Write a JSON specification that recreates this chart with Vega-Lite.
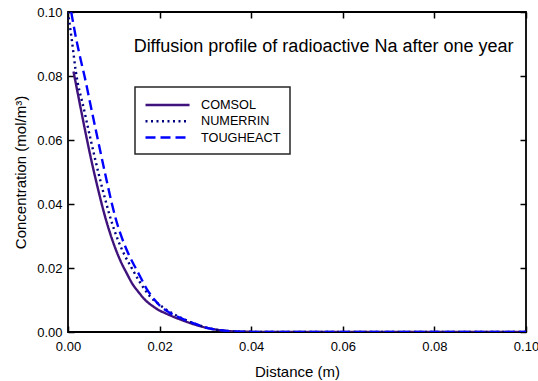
{
  "$schema": "https://vega.github.io/schema/vega-lite/v6.json",
  "width": 458,
  "height": 320,
  "autosize": {"type": "none"},
  "padding": {"left": 68, "top": 12, "right": 12, "bottom": 49},
  "background": "white",
  "config": {
    "font": "Liberation Sans",
    "view": {"stroke": "black", "strokeWidth": 1.8},
    "axis": {
      "domain": false,
      "grid": false,
      "tickColor": "black",
      "tickWidth": 1.5,
      "tickSize": -6,
      "labelFont": "Liberation Sans",
      "labelFontSize": 13,
      "labelColor": "black",
      "labelFlush": false,
      "labelOverlap": false,
      "titleFont": "Liberation Sans",
      "titleFontSize": 15,
      "titleFontWeight": "normal",
      "titleColor": "black"
    },
    "legend": {
      "labelFont": "Liberation Sans",
      "labelFontSize": 12.7,
      "labelColor": "black",
      "strokeWidth": 1.5
    }
  },
  "datasets": {
    "profiles": [
      {"series": "COMSOL", "d": 0.0012, "c": 0.0814},
      {"series": "COMSOL", "d": 0.0025, "c": 0.0719},
      {"series": "COMSOL", "d": 0.004, "c": 0.0611},
      {"series": "COMSOL", "d": 0.0052, "c": 0.0530},
      {"series": "COMSOL", "d": 0.0065, "c": 0.0450},
      {"series": "COMSOL", "d": 0.0078, "c": 0.0376},
      {"series": "COMSOL", "d": 0.009, "c": 0.0317},
      {"series": "COMSOL", "d": 0.0103, "c": 0.0263},
      {"series": "COMSOL", "d": 0.0115, "c": 0.0221},
      {"series": "COMSOL", "d": 0.0128, "c": 0.0184},
      {"series": "COMSOL", "d": 0.014, "c": 0.0152},
      {"series": "COMSOL", "d": 0.0155, "c": 0.0123},
      {"series": "COMSOL", "d": 0.017, "c": 0.0098},
      {"series": "COMSOL", "d": 0.0185, "c": 0.0081},
      {"series": "COMSOL", "d": 0.02, "c": 0.0067},
      {"series": "COMSOL", "d": 0.0212, "c": 0.0059},
      {"series": "COMSOL", "d": 0.024, "c": 0.0042},
      {"series": "COMSOL", "d": 0.0273, "c": 0.0025},
      {"series": "COMSOL", "d": 0.03, "c": 0.0014},
      {"series": "COMSOL", "d": 0.033, "c": 0.0006},
      {"series": "COMSOL", "d": 0.036, "c": 0.0002},
      {"series": "COMSOL", "d": 0.04, "c": 0.00005},
      {"series": "COMSOL", "d": 0.045, "c": 0},
      {"series": "COMSOL", "d": 0.05, "c": 0},
      {"series": "COMSOL", "d": 0.06, "c": 0},
      {"series": "COMSOL", "d": 0.07, "c": 0},
      {"series": "COMSOL", "d": 0.08, "c": 0},
      {"series": "COMSOL", "d": 0.09, "c": 0},
      {"series": "COMSOL", "d": 0.1, "c": 0},
      {"series": "NUMERRIN", "d": 0, "c": 0.1},
      {"series": "NUMERRIN", "d": 0.0009, "c": 0.0905},
      {"series": "NUMERRIN", "d": 0.0017, "c": 0.0815},
      {"series": "NUMERRIN", "d": 0.0035, "c": 0.0695},
      {"series": "NUMERRIN", "d": 0.005, "c": 0.0598},
      {"series": "NUMERRIN", "d": 0.0067, "c": 0.0494},
      {"series": "NUMERRIN", "d": 0.0084, "c": 0.0400},
      {"series": "NUMERRIN", "d": 0.0097, "c": 0.0336},
      {"series": "NUMERRIN", "d": 0.011, "c": 0.0284},
      {"series": "NUMERRIN", "d": 0.0124, "c": 0.0239},
      {"series": "NUMERRIN", "d": 0.0138, "c": 0.0203},
      {"series": "NUMERRIN", "d": 0.0155, "c": 0.0160},
      {"series": "NUMERRIN", "d": 0.0178, "c": 0.0113},
      {"series": "NUMERRIN", "d": 0.02, "c": 0.0085},
      {"series": "NUMERRIN", "d": 0.0225, "c": 0.0061},
      {"series": "NUMERRIN", "d": 0.025, "c": 0.0042},
      {"series": "NUMERRIN", "d": 0.0277, "c": 0.0026},
      {"series": "NUMERRIN", "d": 0.0303, "c": 0.0013},
      {"series": "NUMERRIN", "d": 0.033, "c": 0.0006},
      {"series": "NUMERRIN", "d": 0.036, "c": 0.0002},
      {"series": "NUMERRIN", "d": 0.04, "c": 0.00005},
      {"series": "NUMERRIN", "d": 0.045, "c": 0},
      {"series": "NUMERRIN", "d": 0.05, "c": 0},
      {"series": "NUMERRIN", "d": 0.06, "c": 0},
      {"series": "NUMERRIN", "d": 0.07, "c": 0},
      {"series": "NUMERRIN", "d": 0.08, "c": 0},
      {"series": "NUMERRIN", "d": 0.09, "c": 0},
      {"series": "NUMERRIN", "d": 0.1, "c": 0},
      {"series": "TOUGHEACT", "d": 0.0007, "c": 0.1},
      {"series": "TOUGHEACT", "d": 0.0018, "c": 0.0915},
      {"series": "TOUGHEACT", "d": 0.0029, "c": 0.0843},
      {"series": "TOUGHEACT", "d": 0.0036, "c": 0.0800},
      {"series": "TOUGHEACT", "d": 0.005, "c": 0.0704},
      {"series": "TOUGHEACT", "d": 0.0068, "c": 0.0582},
      {"series": "TOUGHEACT", "d": 0.0082, "c": 0.0489},
      {"series": "TOUGHEACT", "d": 0.0096, "c": 0.0400},
      {"series": "TOUGHEACT", "d": 0.0105, "c": 0.0350},
      {"series": "TOUGHEACT", "d": 0.0115, "c": 0.0305},
      {"series": "TOUGHEACT", "d": 0.0125, "c": 0.0267},
      {"series": "TOUGHEACT", "d": 0.0135, "c": 0.0235},
      {"series": "TOUGHEACT", "d": 0.0145, "c": 0.0207},
      {"series": "TOUGHEACT", "d": 0.0158, "c": 0.0172},
      {"series": "TOUGHEACT", "d": 0.0172, "c": 0.0134},
      {"series": "TOUGHEACT", "d": 0.0185, "c": 0.0108},
      {"series": "TOUGHEACT", "d": 0.0201, "c": 0.0082},
      {"series": "TOUGHEACT", "d": 0.022, "c": 0.0062},
      {"series": "TOUGHEACT", "d": 0.025, "c": 0.0041},
      {"series": "TOUGHEACT", "d": 0.0277, "c": 0.0026},
      {"series": "TOUGHEACT", "d": 0.0303, "c": 0.0013},
      {"series": "TOUGHEACT", "d": 0.033, "c": 0.0006},
      {"series": "TOUGHEACT", "d": 0.036, "c": 0.0002},
      {"series": "TOUGHEACT", "d": 0.04, "c": 0.00005},
      {"series": "TOUGHEACT", "d": 0.045, "c": 0},
      {"series": "TOUGHEACT", "d": 0.05, "c": 0},
      {"series": "TOUGHEACT", "d": 0.06, "c": 0},
      {"series": "TOUGHEACT", "d": 0.07, "c": 0},
      {"series": "TOUGHEACT", "d": 0.08, "c": 0},
      {"series": "TOUGHEACT", "d": 0.09, "c": 0},
      {"series": "TOUGHEACT", "d": 0.1, "c": 0}
    ],
    "caption": [
      {"label": "Diffusion profile of radioactive Na after one year"}
    ]
  },
  "layer": [
    {
      "data": {"name": "profiles"},
      "mark": {"type": "line", "strokeWidth": 2.4, "clip": true, "interpolate": "monotone"},
      "encoding": {
        "x": {
          "field": "d", "type": "quantitative",
          "scale": {"domain": [0, 0.1], "nice": false, "zero": false},
          "axis": {
            "orient": "bottom", "title": "Distance (m)",
            "values": [0, 0.02, 0.04, 0.06, 0.08, 0.1], "format": ".2f",
            "labelPadding": 14, "titleY": 44, "titleBaseline": "alphabetic"
          }
        },
        "y": {
          "field": "c", "type": "quantitative",
          "scale": {"domain": [0, 0.1], "nice": false, "zero": false},
          "axis": {
            "orient": "left", "title": "Concentration (mol/m³)",
            "values": [0, 0.02, 0.04, 0.06, 0.08, 0.1], "format": ".2f",
            "labelPadding": 12, "titleX": -43, "titleBaseline": "alphabetic"
          }
        },
        "color": {
          "field": "series", "type": "nominal",
          "scale": {"domain": ["COMSOL", "NUMERRIN", "TOUGHEACT"], "range": ["#3f127c", "#00007f", "#0000ff"]},
          "legend": {
            "title": null, "orient": "none", "legendX": 67, "legendY": 75,
            "padding": 9, "strokeColor": "#262626", "fillColor": "white",
            "symbolType": "M-1,0H4.87", "symbolSize": 225, "symbolStrokeWidth": 2.5,
            "labelOffset": 39, "rowPadding": 0.3
          }
        },
        "strokeDash": {
          "field": "series", "type": "nominal",
          "scale": {"domain": ["COMSOL", "NUMERRIN", "TOUGHEACT"], "range": [[1, 0], [2, 3.5], [10, 5]]},
          "legend": {
            "title": null, "orient": "none", "legendX": 67, "legendY": 75,
            "padding": 9, "strokeColor": "#262626", "fillColor": "white",
            "symbolType": "M-1,0H4.87", "symbolSize": 225, "symbolStrokeWidth": 2.5,
            "labelOffset": 39, "rowPadding": 0.3
          }
        }
      }
    },
    {
      "data": {"name": "caption"},
      "mark": {"type": "text", "fontSize": 18, "font": "Liberation Sans", "align": "center", "baseline": "alphabetic", "color": "black"},
      "encoding": {
        "text": {"field": "label"},
        "x": {
          "datum": 0.0558, "type": "quantitative",
          "axis": {"orient": "top", "title": null, "labels": false, "values": [0, 0.02, 0.04, 0.06, 0.08, 0.1]}
        },
        "y": {
          "datum": 0.0874, "type": "quantitative",
          "axis": {"orient": "right", "title": null, "labels": false, "values": [0, 0.02, 0.04, 0.06, 0.08, 0.1]}
        }
      }
    }
  ],
  "resolve": {"axis": {"x": "independent", "y": "independent"}}
}
